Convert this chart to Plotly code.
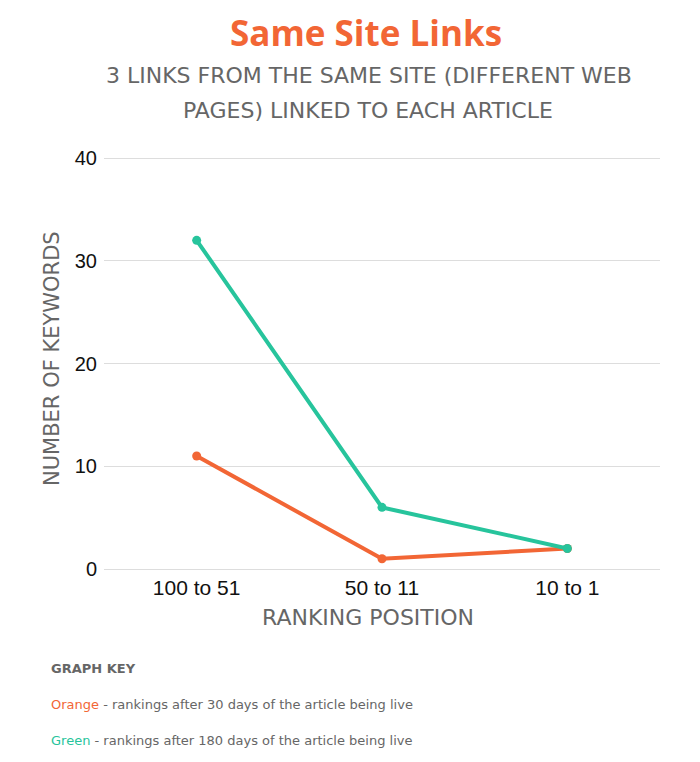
import plotly.graph_objects as go

categories = ["100 to 51", "50 to 11", "10 to 1"]
orange_30_days = [11, 1, 2]
green_180_days = [32, 6, 2]
y_ticks = [0, 10, 20, 30, 40]

ORANGE = "#f26635"
GREEN = "#27c49c"
GREY = "#666666"
TXT = "DejaVu Sans, sans-serif"

fig = go.Figure()
fig.add_trace(go.Scatter(x=categories, y=orange_30_days, mode="lines+markers",
                         line=dict(color=ORANGE, width=4), marker=dict(size=9, color=ORANGE),
                         name="Orange"))
fig.add_trace(go.Scatter(x=categories, y=green_180_days, mode="lines+markers",
                         line=dict(color=GREEN, width=4), marker=dict(size=9, color=GREEN),
                         name="Green"))

fig.update_layout(
    width=700, height=762,
    margin=dict(l=104, r=40, t=153, b=193),
    paper_bgcolor="white", plot_bgcolor="white",
    showlegend=False,
    xaxis=dict(type="category", range=[-0.5, 2.5], showgrid=False,
               showline=True, linecolor="#dddddd", linewidth=1,
               tickfont=dict(family="Liberation Sans, Arial", size=21, color="#111111"),
               ticks=""),
    yaxis=dict(range=[0, 40.5], tickvals=y_ticks, showgrid=True, gridcolor="#dddddd",
               zeroline=False, ticks="", ticklabelstandoff=6,
               tickfont=dict(family="Liberation Sans, Arial", size=20, color="#111111")),
)

def ann(text, x, y, size, color, xanchor="center", family=TXT, angle=0):
    fig.add_annotation(text=text, xref="paper", yref="paper",
                       x=(x - 104) / 556, y=(569 - y) / 416,
                       xanchor=xanchor, yanchor="middle", showarrow=False, textangle=angle,
                       font=dict(size=size, color=color, family=family))

ann("<b>Same Site Links</b>", 366, 32, 35, ORANGE, family="Open Sans, sans-serif")
ann("3 LINKS FROM THE SAME SITE (DIFFERENT WEB", 369, 75, 22, GREY)
ann("PAGES) LINKED TO EACH ARTICLE", 368, 111, 22, GREY)
ann("RANKING POSITION", 368, 617, 22, GREY)
ann("NUMBER OF KEYWORDS", 52, 359, 21, GREY, angle=-90)
ann("<b>GRAPH KEY</b>", 49, 668, 13, GREY, xanchor="left")
ann(f"<span style='color:{ORANGE}'>Orange</span> - rankings after 30 days of the article being live",
    49, 704, 13, GREY, xanchor="left")
ann(f"<span style='color:{GREEN}'>Green</span> - rankings after 180 days of the article being live",
    49, 740, 13, GREY, xanchor="left")

fig.write_html("out.html")
